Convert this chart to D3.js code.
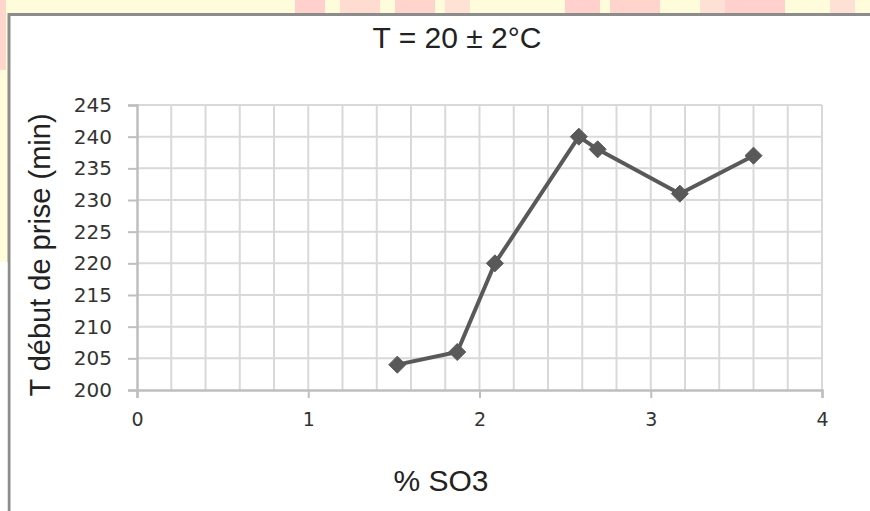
<!DOCTYPE html>
<html>
<head>
<meta charset="utf-8">
<script src="https://cdn.jsdelivr.net/npm/d3@7/dist/d3.min.js"></script>
<style>
  html, body { margin: 0; padding: 0; background: #fffcdc; }
  svg { display: block; }
</style>
</head>
<body>
<svg id="chart" width="870" height="511"></svg>
<script>
// ---- data ----
const so3Values = [1.52, 1.87, 2.09, 2.58, 2.69, 3.17, 3.6];
const setTimes = [204, 206, 220, 240, 238, 231, 237];
const xTickLabels = [0, 1, 2, 3, 4];
const yTickLabels = [200, 205, 210, 215, 220, 225, 230, 235, 240, 245];
const chartTitle = "T = 20 ± 2°C";
const xTitle = "% SO3";
const yTitle = "T début de prise (min)";

const svg = d3.select("#chart");
const W = 870, H = 511;

// background decoration (watermark-like patches at the top)
const bg = svg.append("g");
bg.append("rect").attr("x", 0).attr("y", 0).attr("width", W).attr("height", H).attr("fill", "#fffcdc");
const patches = [[295, 30, "#ffd0cc"], [340, 40, "#ffdcd0"], [395, 40, "#ffd4cc"], [445, 25, "#ffe2d4"],
                 [565, 35, "#ffd0cc"], [610, 50, "#ffd4cc"], [700, 25, "#ffe0d4"], [725, 60, "#ffd0cc"], [830, 25, "#ffe0d4"]];
patches.forEach(p => bg.append("rect").attr("x", p[0]).attr("y", 0).attr("width", p[1]).attr("height", 14).attr("fill", p[2]));
bg.append("rect").attr("x", 0).attr("y", 0).attr("width", 6).attr("height", 70).attr("fill", "#ffd6cc");

// chart box
svg.append("rect").attr("x", 9).attr("y", 14.5).attr("width", W + 10).attr("height", H)
  .attr("fill", "#ffffff").attr("stroke", "#8c8c8c").attr("stroke-width", 3);
svg.append("rect").attr("x", 0).attr("y", 262).attr("width", 7.5).attr("height", H - 262).attr("fill", "#ffffff");

// scales
const x = d3.scaleLinear().domain([0, 4]).range([137, 822]);
const y = d3.scaleLinear().domain([200, 245]).range([390, 105]);

// grid
const grid = svg.append("g");
grid.selectAll("line.v").data(d3.range(1, 21).map(i => i * 0.2)).join("line")
  .attr("x1", d => x(d)).attr("x2", d => x(d)).attr("y1", y(245)).attr("y2", y(200))
  .attr("stroke", "#d9d9d9").attr("stroke-width", 2);
grid.selectAll("line.h").data(yTickLabels.slice(1)).join("line")
  .attr("x1", x(0)).attr("x2", x(4)).attr("y1", d => y(d)).attr("y2", d => y(d))
  .attr("stroke", "#d9d9d9").attr("stroke-width", 2);

// axes
const yAxis = svg.append("g").attr("transform", `translate(${x(0)},0)`)
  .call(d3.axisLeft(y).tickValues(yTickLabels).tickSize(9).tickPadding(16));
const xAxis = svg.append("g").attr("transform", `translate(0,${y(200)})`)
  .call(d3.axisBottom(x).tickValues(xTickLabels).tickFormat(d3.format("d")).tickSize(8).tickPadding(15));
[xAxis, yAxis].forEach(a => {
  a.select(".domain").attr("stroke", "#bfbfbf").attr("stroke-width", 2.5);
  a.selectAll(".tick line").attr("stroke", "#bfbfbf").attr("stroke-width", 2);
  a.selectAll("text").attr("fill", "#333").attr("font-family", "DejaVu Sans").attr("font-size", 19);
});
yAxis.selectAll("text").attr("font-size", 20);

// line + markers
const pts = so3Values.map((v, i) => [v, setTimes[i]]);
svg.append("path").datum(pts)
  .attr("d", d3.line().x(d => x(d[0])).y(d => y(d[1])))
  .attr("fill", "none").attr("stroke", "#595959").attr("stroke-width", 4).attr("stroke-linejoin", "round");
svg.selectAll("path.m").data(pts).join("path")
  .attr("transform", d => `translate(${x(d[0])},${y(d[1])})`)
  .attr("d", d3.symbol().type(d3.symbolDiamond2).size(185))
  .attr("fill", "#595959").attr("stroke", "#595959").attr("stroke-width", 1).attr("stroke-linejoin", "round");

// titles
svg.append("text").attr("x", 457).attr("y", 48).attr("text-anchor", "middle")
  .attr("font-family", "Liberation Sans").attr("font-size", 30).attr("fill", "#222").text(chartTitle);
svg.append("text").attr("x", 441).attr("y", 491).attr("text-anchor", "middle")
  .attr("font-family", "Liberation Sans").attr("font-size", 30).attr("fill", "#222").text(xTitle);
svg.append("text").attr("transform", `translate(50,255) rotate(-90)`)
  .attr("text-anchor", "middle").attr("font-family", "Liberation Sans").attr("font-size", 29)
  .attr("fill", "#222").text(yTitle);
</script>
</body>
</html>
